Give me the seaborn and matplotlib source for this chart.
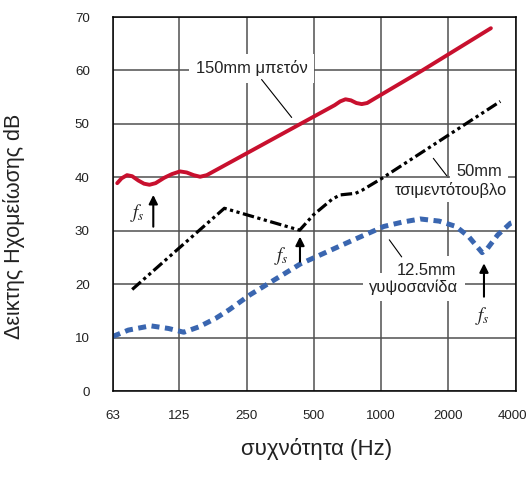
import matplotlib
matplotlib.use("Agg")
import matplotlib.pyplot as plt
import matplotlib.transforms as mtransforms
import seaborn as sns
import numpy as np
import pandas as pd

# ---------------- data ----------------
concrete_f = [66, 69, 73, 77, 82, 87, 92, 98, 107, 116, 126, 135, 145, 155, 166,
              620, 656, 693, 733, 775, 819, 866, 941, 1528, 3098]
concrete_db = [38.9, 39.8, 40.4, 40.2, 39.4, 38.8, 38.6, 38.9, 39.9, 40.6, 41.1, 40.9,
               40.4, 40.1, 40.4, 53.5, 54.2, 54.6, 54.4, 53.9, 53.7, 53.9, 54.8, 60.0, 67.9]

block_f = [77, 126, 199, 432, 499, 604, 656, 769, 824, 1008, 3414]
block_db = [19.0, 26.9, 34.2, 30.1, 33.0, 35.9, 36.7, 37.0, 37.6, 39.8, 54.2]

gypsum_f = [63, 74, 93, 112, 131, 153, 182, 209, 259, 436, 754, 1029, 1241, 1496,
            1817, 2161, 2465, 2831, 2993, 3321, 3788, 4000]
gypsum_db = [10.2, 11.4, 12.2, 11.7, 11.0, 12.0, 13.6, 15.2, 18.0, 23.8, 28.3, 30.8,
             31.6, 32.2, 31.8, 30.8, 28.9, 25.9, 26.7, 29.2, 31.4, 31.7]

x_ticks = [63, 125, 250, 500, 1000, 2000, 4000]
x_tick_labels = ["63", "125", "250", "500", "1000", "2000", "4000"]
y_ticks = [0, 10, 20, 30, 40, 50, 60, 70]

label_concrete = "150mm μπετόν"
label_block = ["50mm", "τσιμεντότουβλο"]
label_gypsum = ["12.5mm", "γυψοσανίδα"]
x_title = "συχνότητα (Hz)"
y_title = "Δεικτης Ηχομείωσης dB"

# ---------------- style ----------------
sns.set_theme(style="white")
plt.rcParams["font.family"] = ["Liberation Sans", "DejaVu Sans"]
plt.rcParams["mathtext.fontset"] = "stix"

W, H = 529, 488
fig = plt.figure(figsize=(W / 100, H / 100), dpi=100)
ax = fig.add_axes([112.7 / W, 1 - 391 / H, 403 / W, 374 / H])

RED = "#c8102e"
BLUE = "#3a66b0"
GRID = "#505050"
TXT = "#222222"

sns.lineplot(x=concrete_f, y=concrete_db, ax=ax, color=RED, lw=2.8,
             errorbar=None, solid_capstyle="round", solid_joinstyle="round")
sns.lineplot(x=block_f, y=block_db, ax=ax, color="black", lw=2.3,
             errorbar=None, linestyle=(0, (3.6, 1.1, 1.0, 1.1, 1.0, 1.1)))
sns.lineplot(x=gypsum_f, y=gypsum_db, ax=ax, color=BLUE, lw=3.6,
             errorbar=None, linestyle=(0, (1.6, 1.1)))

ax.set_xscale("log", base=2)
ax.set_xlim(63, 4000)
ax.set_ylim(0, 70)
ax.set_xticks(x_ticks)
ax.set_xticklabels(x_tick_labels)
ax.minorticks_off()
ax.set_yticks(y_ticks)
ax.set_yticklabels([str(v) for v in y_ticks])

ax.grid(True, color=GRID, lw=1.1)
ax.set_axisbelow(True)
for s in ax.spines.values():
    s.set_color("black")
    s.set_linewidth(1.1)

ax.tick_params(axis="x", which="major", direction="out", length=6.5, width=1.1,
               color=GRID, labelsize=9.6, labelcolor=TXT, pad=7)
ax.tick_params(axis="y", which="major", direction="out", length=8.5, width=1.1,
               color=GRID, labelsize=9.6, labelcolor=TXT, pad=8)
for axis in (ax.xaxis, ax.yaxis):
    ticks = axis.get_major_ticks()
    ticks[0].tick1line.set_visible(False)
    ticks[-1].tick1line.set_visible(False)

# nudge the last x label so it stays inside the figure, as in the reference
last = ax.get_xticklabels()[-1]
last.set_transform(last.get_transform() +
                   mtransforms.ScaledTranslation(-3 / 100, 0, fig.dpi_scale_trans))

ax.set_xlabel(x_title, fontsize=16, color=TXT)
ax.set_ylabel(y_title, fontsize=15.5, color=TXT)
ax.xaxis.set_label_coords(0.505, -0.126)
ax.yaxis.set_label_coords(-0.218, 0.441)


# ---------------- annotations ----------------
def label(x, y, s, ha="right", va="baseline", pad=4.5):
    # white mask behind the text (drawn first), then the text itself on top
    ax.text(x, y, s, ha=ha, va=va, fontsize=11.9, color="none",
            bbox=dict(facecolor="white", edgecolor="none", pad=pad), zorder=5)
    ax.text(x, y, s, ha=ha, va=va, fontsize=11.9, color=TXT, zorder=6)


label(263, 60.4, label_concrete, ha="center", va="center")
ax.plot([292, 398], [58.3, 51.2], color="black", lw=0.8, zorder=6)

label(3461, 40.3, label_block[0])
label(3645, 36.7, label_block[1], pad=3)
ax.plot([1712, 1965], [43.55, 40.3], color="black", lw=0.8, zorder=6)

label(2177, 21.8, label_gypsum[0])
label(2214, 18.6, label_gypsum[1])
ax.plot([1088, 1236], [28.3, 25.1], color="black", lw=0.8, zorder=6)

arrows = [((95.7, 30.75), (95.7, 36.7), (81.2, 33.4)),
          ((433.6, 24.2), (433.6, 28.9), (359, 25.3)),
          ((2885, 17.65), (2885, 23.9), (2848, 14.0))]
for start, end, txt in arrows:
    ax.annotate("", xy=end, xytext=start,
                arrowprops=dict(arrowstyle="-|>", lw=1.5, color="black",
                                mutation_scale=13, shrinkA=0, shrinkB=0),
                zorder=7)
    ax.text(txt[0], txt[1], r"$f_s$", ha="center", va="center", fontsize=13.5,
            color=TXT, zorder=7)

fig.savefig("out.png", dpi=100)
